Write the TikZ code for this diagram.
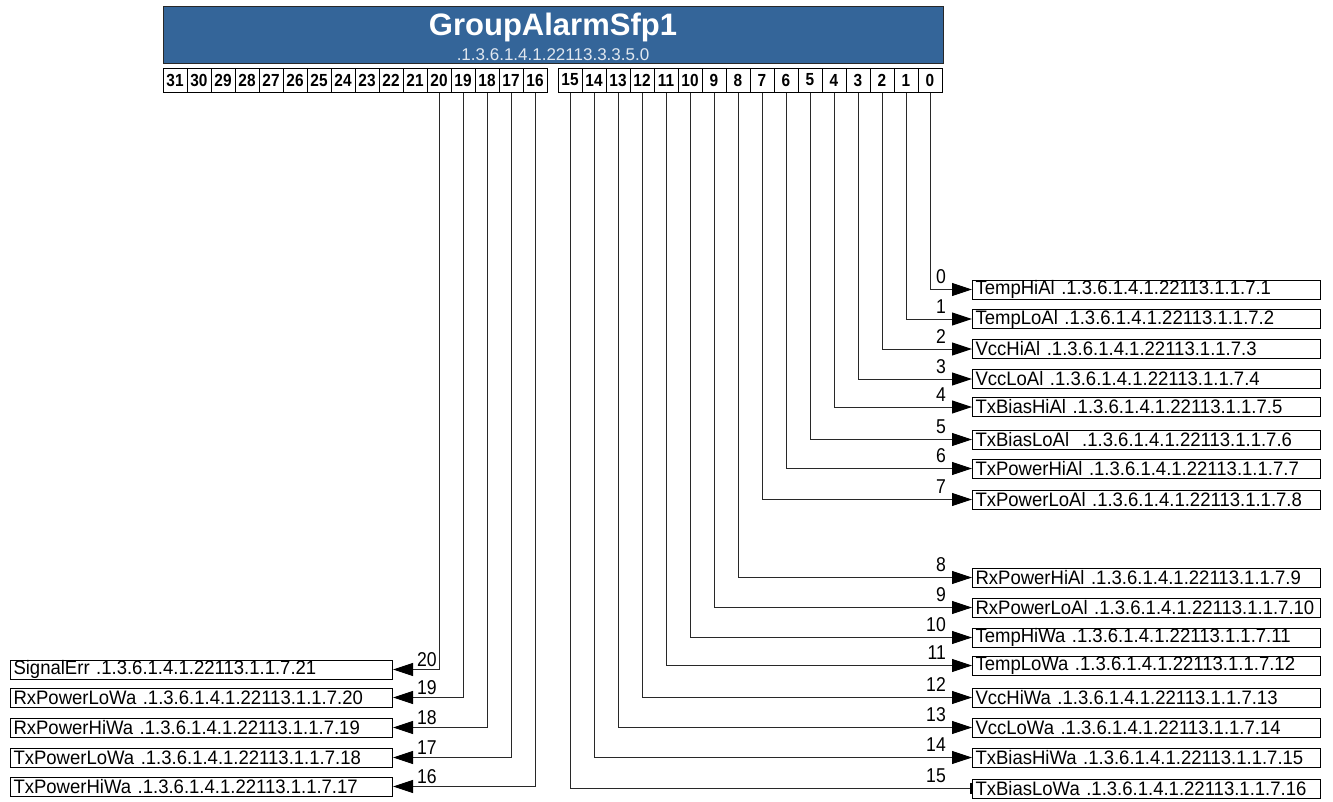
\documentclass[tikz,border=0pt]{standalone}
\usepackage{fontspec}
\setmainfont{Liberation Sans}
\newfontfamily\condfont[FakeStretch=0.95]{Liberation Sans}
\newfontfamily\bitfont[FakeStretch=0.88]{Liberation Sans}
\usetikzlibrary{arrows.meta,calc}
\definecolor{hdrblue}{RGB}{52,101,153}
\definecolor{subcol}{RGB}{225,232,240}
\definecolor{linecol}{RGB}{40,40,40}
\tikzset{
  hdrbox/.style={draw=linecol, line width=1pt, fill=hdrblue, minimum width=780pt, minimum height=57pt, anchor=north west, inner sep=0pt},
  bitbox/.style={draw=black, line width=1pt, minimum width=24pt, minimum height=24pt, inner sep=0pt, font=\bitfont\bfseries\fontsize{17.5}{17.5}\selectfont},
  rowbox/.style={draw=black, line width=1pt, text width=342pt, inner xsep=3pt, inner ysep=0pt, minimum height=19pt, align=left, font=\condfont\fontsize{19.5}{19.5}\selectfont},
  numlbl/.style={inner sep=0pt, font=\bitfont\fontsize{20}{20}\selectfont},
  conn/.style={draw=linecol, line width=1pt},
  tri/.style={-{Triangle[length=20pt,width=13pt,color=black]}},
  barend/.style={-{Bar[width=11pt,line width=2.5pt,color=black]}}
}
\begin{document}
\begin{tikzpicture}[x=1pt,y=-1pt]
\useasboundingbox (0,0) rectangle (1333,801);
% header
\node[hdrbox] (hdr) at (163,6) {};
\node[anchor=base, inner sep=0pt, text=white, font=\bfseries\fontsize{31}{31}\selectfont] (title) at (553,35) {GroupAlarmSfp1};
\node[anchor=base, inner sep=0pt, text=subcol, font=\fontsize{17}{17}\selectfont] (oid) at (553,60) {.1.3.6.1.4.1.22113.3.3.5.0};
% bit boxes
\foreach \i in {16,...,31}{
  \node[bitbox] (b\i) at ({163+(31-\i)*24+12},80) {\i};
}
\foreach \i in {0,...,15}{
  \node[bitbox] (b\i) at ({558+(15-\i)*24+12},80) {\i};
}
% right rows
\foreach \i/\y/\t in {
 0/289.5/{TempHiAl .1.3.6.1.4.1.22113.1.1.7.1},
 1/319/{TempLoAl .1.3.6.1.4.1.22113.1.1.7.2},
 2/349/{VccHiAl .1.3.6.1.4.1.22113.1.1.7.3},
 3/379/{VccLoAl .1.3.6.1.4.1.22113.1.1.7.4},
 4/407/{TxBiasHiAl .1.3.6.1.4.1.22113.1.1.7.5},
 5/439.5/{TxBiasLoAl~ .1.3.6.1.4.1.22113.1.1.7.6},
 6/468.5/{TxPowerHiAl .1.3.6.1.4.1.22113.1.1.7.7},
 7/499.5/{TxPowerLoAl .1.3.6.1.4.1.22113.1.1.7.8},
 8/577.5/{RxPowerHiAl .1.3.6.1.4.1.22113.1.1.7.9},
 9/607.5/{RxPowerLoAl .1.3.6.1.4.1.22113.1.1.7.10},
 10/637.5/{TempHiWa .1.3.6.1.4.1.22113.1.1.7.11},
 11/665.5/{TempLoWa .1.3.6.1.4.1.22113.1.1.7.12},
 12/697.5/{VccHiWa .1.3.6.1.4.1.22113.1.1.7.13},
 13/727.5/{VccLoWa .1.3.6.1.4.1.22113.1.1.7.14},
 14/757.5/{TxBiasHiWa .1.3.6.1.4.1.22113.1.1.7.15},
 15/788.5/{TxBiasLoWa .1.3.6.1.4.1.22113.1.1.7.16}}{
  \node[rowbox, anchor=west] (r\i) at (972,\y) {\mbox{\t}};
  \node[numlbl, anchor=base east] (n\i) at ($(r\i.west)+(-26,-6)$) {\i};
}
% left rows
\foreach \i/\y/\t in {
 20/669.5/{SignalErr .1.3.6.1.4.1.22113.1.1.7.21},
 19/697.5/{RxPowerLoWa .1.3.6.1.4.1.22113.1.1.7.20},
 18/727.5/{RxPowerHiWa .1.3.6.1.4.1.22113.1.1.7.19},
 17/757.5/{TxPowerLoWa .1.3.6.1.4.1.22113.1.1.7.18},
 16/786.5/{TxPowerHiWa .1.3.6.1.4.1.22113.1.1.7.17}}{
  \node[rowbox, text width=376pt, anchor=east] (l\i) at (393,\y) {\mbox{\t}};
  \node[numlbl, anchor=base west] (n\i) at ($(l\i.east)+(24,-3)$) {\i};
}
% connectors
\foreach \i in {0,...,14}{
  \draw[conn, tri] (b\i.south) |- (r\i.west);
}
\draw[conn, barend] (b15.south) |- (r15.west);
\foreach \i in {16,...,20}{
  \draw[conn, tri] (b\i.south) |- (l\i.east);
}
\end{tikzpicture}
\end{document}
